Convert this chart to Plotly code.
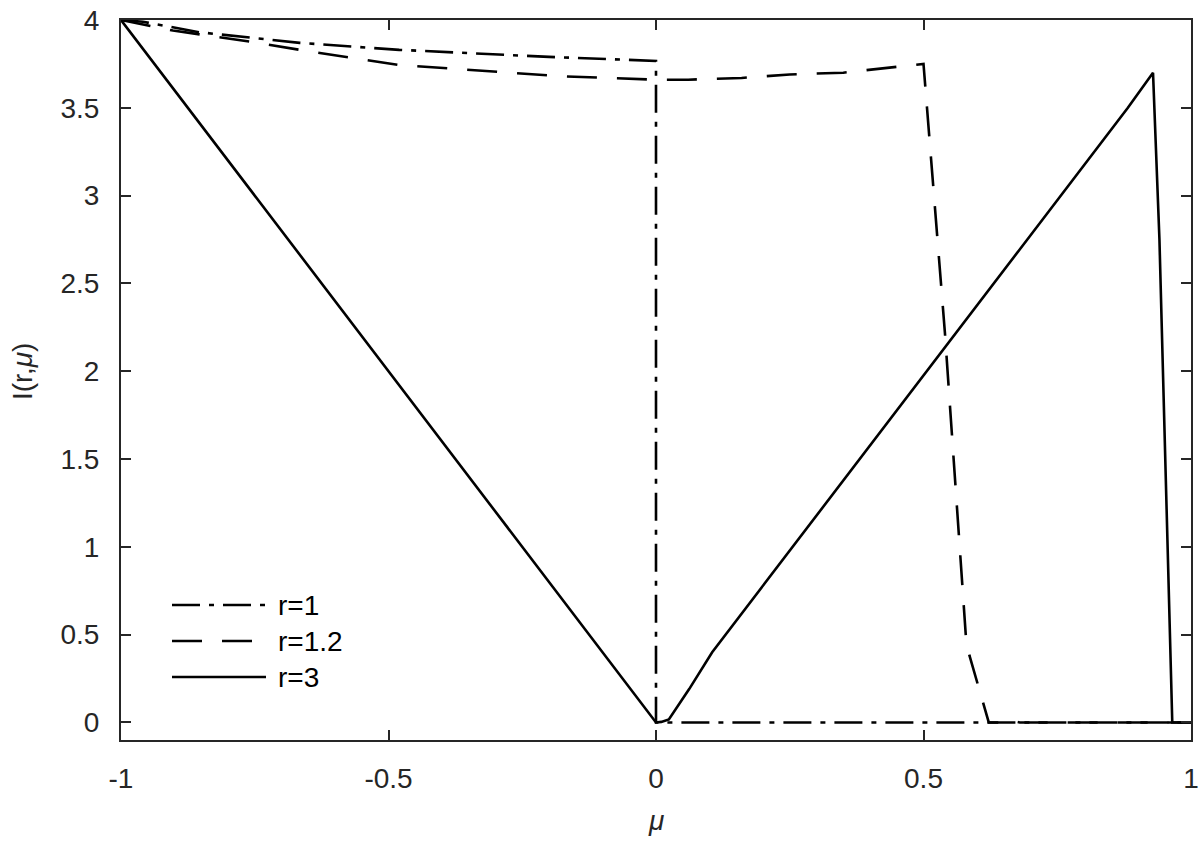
import plotly.graph_objects as go

# r = 1 (dash-dot)
mu_r1 = [-1.0, -0.959, -0.853, -0.666, -0.48, -0.2, 0.0, 0.0, 1.0]
I_r1 = [4.0, 3.99, 3.93, 3.87, 3.83, 3.79, 3.767, 0.0, 0.0]

# r = 1.2 (dashed)
mu_r12 = [-1.0, -0.903, -0.76, -0.666, -0.48, -0.18, 0.0, 0.06, 0.16, 0.25, 0.35, 0.44, 0.50,
          0.540, 0.571, 0.58, 0.586, 0.612, 0.622, 0.65, 0.66, 0.68, 1.0]
I_r12 = [4.0, 3.94, 3.877, 3.83, 3.744, 3.68, 3.66, 3.66, 3.67, 3.69, 3.70, 3.73, 3.75,
         2.22, 0.84, 0.455, 0.38, 0.10, 0.0, 0.0, 0.012, 0.0, 0.0]

# r = 3 (solid)
mu_r3 = [-1.0, 0.0, 0.01, 0.024, 0.062, 0.105, 0.882, 0.929, 0.941, 0.957, 0.965, 1.0]
I_r3 = [4.0, 0.0, 0.003, 0.017, 0.19, 0.40, 3.50, 3.70, 2.75, 0.87, 0.0, 0.0]

legend_labels = ["r=1", "r=1.2", "r=3"]
dashes = ["28px,9px,5px,9px", "30px,20px", "solid"]

FONT = "Liberation Sans, Arial, Helvetica, sans-serif"
AXC = "#262626"
FS = 28

fig = go.Figure()
for x, y, d, name in zip([mu_r1, mu_r12, mu_r3], [I_r1, I_r12, I_r3], dashes, legend_labels):
    fig.add_trace(go.Scatter(
        x=x, y=y, mode="lines", name=name, showlegend=False,
        line=dict(color="black", width=2.6, dash=d)
    ))

# pixel -> paper helpers for the hand-made legend and titles
W, H = 1200, 841
L, R, T, B = 121, 9, 20, 101
pw, ph = W - L - R, H - T - B
def px(xp):
    return (xp - L) / pw
def py(yp):
    return (H - B - yp) / ph

# MATLAB-like legend (long line samples)
for i, (lab, d) in enumerate(zip(legend_labels, dashes)):
    yy = 605 + 36 * i
    fig.add_shape(type="line", xref="paper", yref="paper",
                  x0=px(172), x1=px(266), y0=py(yy), y1=py(yy),
                  line=dict(color="black", width=2.6, dash=d))
    fig.add_annotation(xref="paper", yref="paper", x=px(276), y=py(yy),
                       text=lab, showarrow=False, xanchor="left", yanchor="middle",
                       font=dict(size=FS, color="black", family=FONT))

# axis titles
fig.add_annotation(xref="paper", yref="paper", x=px(656), y=py(820),
                   text="<i>μ</i>", showarrow=False, xanchor="center", yanchor="middle",
                   font=dict(size=FS, color=AXC, family=FONT))
fig.add_annotation(xref="paper", yref="paper", x=px(22), y=py(372),
                   text="I(r,<i>μ</i>)", showarrow=False, textangle=-90,
                   xanchor="center", yanchor="middle",
                   font=dict(size=FS, color=AXC, family=FONT))

fig.update_xaxes(
    range=[-1, 1], tickvals=[-1, -0.5, 0, 0.5, 1], ticktext=["-1", "-0.5", "0", "0.5", "1"],
    showgrid=False, zeroline=False, showline=True, linecolor=AXC, linewidth=2,
    mirror="ticks", ticks="inside", ticklen=10, tickwidth=2, tickcolor=AXC,
    tickfont=dict(size=FS, color=AXC, family=FONT), ticklabelstandoff=12,
    ticklabeloverflow="allow"
)
fig.update_yaxes(
    range=[-0.1, 4], tickvals=[0, 0.5, 1, 1.5, 2, 2.5, 3, 3.5, 4],
    ticktext=["0", "0.5", "1", "1.5", "2", "2.5", "3", "3.5", "4"],
    showgrid=False, zeroline=False, showline=True, linecolor=AXC, linewidth=2,
    mirror="ticks", ticks="inside", ticklen=10, tickwidth=2, tickcolor=AXC,
    tickfont=dict(size=FS, color=AXC, family=FONT), ticklabelstandoff=14,
    ticklabeloverflow="allow"
)
fig.update_layout(
    width=W, height=H,
    margin=dict(l=L, r=R, t=T, b=B, autoexpand=False),
    plot_bgcolor="white", paper_bgcolor="white",
    showlegend=False,
)

fig.write_html("out.html", config={"displayModeBar": False},
               post_script="document.body.style.margin='0';")
